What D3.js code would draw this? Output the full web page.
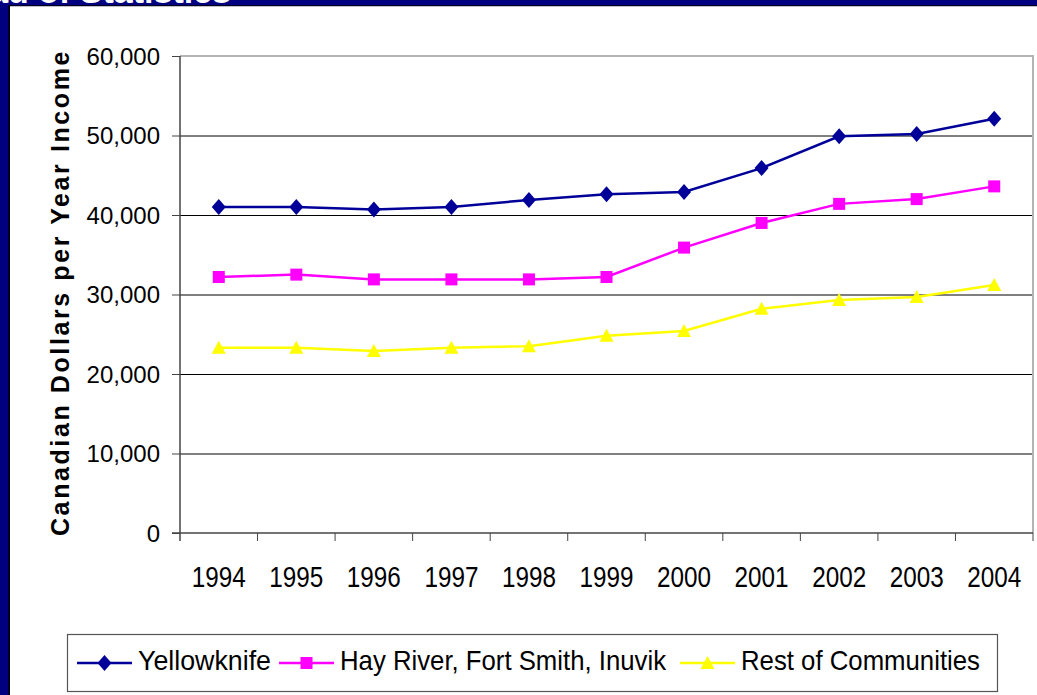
<!DOCTYPE html>
<html>
<head>
<meta charset="utf-8">
<style>
    body { margin: 0; background: white; overflow: hidden; }
    svg text { font-family: "Liberation Sans", Arial, sans-serif; fill: black; }
    .grid line { stroke: black; stroke-width: 1; }
    .grid path { display: none; }
    .yaxis path { display: none; }
    .yaxis line { stroke: #444; stroke-width: 1; }
</style>
</head>
<body>
<div id="chart"></div>
<script src="https://cdn.jsdelivr.net/npm/d3@7"></script>
<script>
//////////////////// data ////////////////////
let years = ['1994', '1995', '1996', '1997', '1998', '1999', '2000', '2001', '2002', '2003', '2004'];
let yellowknife = [41000, 41000, 40700, 41000, 41900, 42600, 42900, 45900, 49900, 50200, 52100];
let hayRiver = [32200, 32500, 31900, 31900, 31900, 32200, 35900, 39000, 41400, 42000, 43600];
let restOf = [23300, 23300, 22900, 23300, 23500, 24800, 25400, 28200, 29300, 29700, 31200];
let yTicks = [0, 10000, 20000, 30000, 40000, 50000, 60000];
let seriesNames = ['Yellowknife', 'Hay River, Fort Smith, Inuvik', 'Rest of Communities'];

//////////////////// layout ////////////////////
let W = 1037, H = 695;
let plotL = 180, plotR = 1033, plotT = 56, plotB = 533;

let series = [
    {name: seriesNames[0], values: yellowknife, color: '#000099', shape: 'diamond'},
    {name: seriesNames[1], values: hayRiver, color: '#ff00ff', shape: 'square'},
    {name: seriesNames[2], values: restOf, color: '#ffff00', shape: 'triangle'}
];

let svg = d3.select('#chart').append('svg')
    .attr('width', W)
    .attr('height', H);

svg.append('rect').attr('width', W).attr('height', H).attr('fill', 'white');

// slide frame (navy bars)
svg.append('rect').attr('x', 0).attr('y', 0).attr('width', W).attr('height', 5).attr('fill', '#000080');
svg.append('rect').attr('x', 0).attr('y', 5).attr('width', W).attr('height', 1.5).attr('fill', '#000020');
svg.append('rect').attr('x', 0).attr('y', 0).attr('width', 8).attr('height', H).attr('fill', '#000080');
svg.append('rect').attr('x', 8).attr('y', 5).attr('width', 2).attr('height', H).attr('fill', '#000020');
svg.append('text')
    .attr('x', 231).attr('y', 3)
    .attr('text-anchor', 'end')
    .style('font-size', '34px')
    .style('font-weight', 'bold')
    .style('fill', 'white')
    .text('NWT Bureau of Statistics');
svg.append('rect').attr('x', 10).attr('y', 6.5).attr('width', W).attr('height', H).attr('fill', 'white');

//////////////////// scales ////////////////////
let x = d3.scaleBand().domain(years).range([plotL, plotR]);
let y = d3.scaleLinear().domain([0, 60000]).range([plotB, plotT]);
let cx = d => x(d) + x.bandwidth() / 2;

// gridlines
svg.append('g')
    .classed('grid', true)
    .attr('transform', `translate(${plotL}, 0)`)
    .call(d3.axisLeft(y).tickValues(yTicks.filter(d => d > 0 && d < 60000)).tickSize(-(plotR - plotL)).tickFormat(''));

// plot border top / right
svg.append('path')
    .attr('d', `M ${plotL} ${plotT} L ${plotR} ${plotT} L ${plotR} ${plotB}`)
    .attr('fill', 'none')
    .attr('stroke', '#b4b4b4')
    .attr('stroke-width', 2);

// y axis
let yAxis = svg.append('g')
    .classed('yaxis', true)
    .attr('transform', `translate(${plotL}, 0)`)
    .call(d3.axisLeft(y).tickValues(yTicks).tickSize(8).tickPadding(12).tickFormat(d3.format(',')));
yAxis.selectAll('text').style('font-size', '24px').attr('dy', '0.35em');

svg.append('line')
    .attr('x1', plotL).attr('x2', plotL)
    .attr('y1', plotT).attr('y2', plotB + 8)
    .attr('stroke', '#444').attr('stroke-width', 1.5);

// x axis
svg.append('line')
    .attr('x1', plotL - 8).attr('x2', plotR)
    .attr('y1', plotB).attr('y2', plotB)
    .attr('stroke', '#444').attr('stroke-width', 1.5);
svg.selectAll('.xtick')
    .data(years.slice(1).concat(['end']))
    .enter().append('line')
    .classed('xtick', true)
    .attr('x1', d => d == 'end' ? plotR : x(d))
    .attr('x2', d => d == 'end' ? plotR : x(d))
    .attr('y1', plotB).attr('y2', plotB + 8)
    .attr('stroke', '#444').attr('stroke-width', 1);
svg.selectAll('.xlabel')
    .data(years)
    .enter().append('text')
    .classed('xlabel', true)
    .attr('x', d => cx(d) - 27)
    .attr('y', 587)
    .attr('textLength', 54)
    .attr('lengthAdjust', 'spacingAndGlyphs')
    .style('font-size', '29px')
    .text(d => d);

// y title
svg.append('text')
    .attr('transform', `translate(69, ${(plotT + plotB) / 2 - 2}) rotate(-90)`)
    .attr('text-anchor', 'middle')
    .style('font-size', '25px')
    .style('font-weight', 'bold')
    .style('letter-spacing', '2.6px')
    .text('Canadian Dollars per Year Income');

//////////////////// series ////////////////////
function marker(g, shape, color) {
    if (shape == 'diamond') {
        g.append('path').attr('d', 'M 0 -8 L 7 0 L 0 8 L -7 0 Z').attr('fill', color);
    } else if (shape == 'square') {
        g.append('rect').attr('x', -6).attr('y', -6).attr('width', 12).attr('height', 12).attr('fill', color);
    } else {
        g.append('path').attr('d', 'M 0 -7 L 7 6 L -7 6 Z').attr('fill', color);
    }
}

let line = d3.line().x((d, i) => cx(years[i])).y(d => y(d));

series.forEach(s => {
    svg.append('path')
        .attr('d', line(s.values))
        .attr('fill', 'none')
        .attr('stroke', s.color)
        .attr('stroke-width', 2.5);
    s.values.forEach((v, i) => {
        let g = svg.append('g').attr('transform', `translate(${cx(years[i])}, ${y(v)})`);
        marker(g, s.shape, s.color);
    });
});

//////////////////// legend ////////////////////
svg.append('rect')
    .attr('x', 67.5).attr('y', 634.5)
    .attr('width', 930).attr('height', 57)
    .attr('fill', 'white')
    .attr('stroke', '#555')
    .attr('stroke-width', 1.2);

let legendItems = [
    {lx: 77, tx: 138, tw: 133},
    {lx: 279, tx: 340, tw: 326},
    {lx: 680, tx: 741, tw: 239}
];
series.forEach((s, i) => {
    let it = legendItems[i];
    let ly = 663;
    svg.append('line')
        .attr('x1', it.lx).attr('x2', it.lx + 55)
        .attr('y1', ly).attr('y2', ly)
        .attr('stroke', s.color).attr('stroke-width', 2.5);
    let g = svg.append('g').attr('transform', `translate(${it.lx + 27.5}, ${ly})`);
    marker(g, s.shape, s.color);
    svg.append('text')
        .attr('x', it.tx).attr('y', 670)
        .attr('textLength', it.tw)
        .attr('lengthAdjust', 'spacingAndGlyphs')
        .style('font-size', '28px')
        .text(s.name);
});
</script>
</body>
</html>
